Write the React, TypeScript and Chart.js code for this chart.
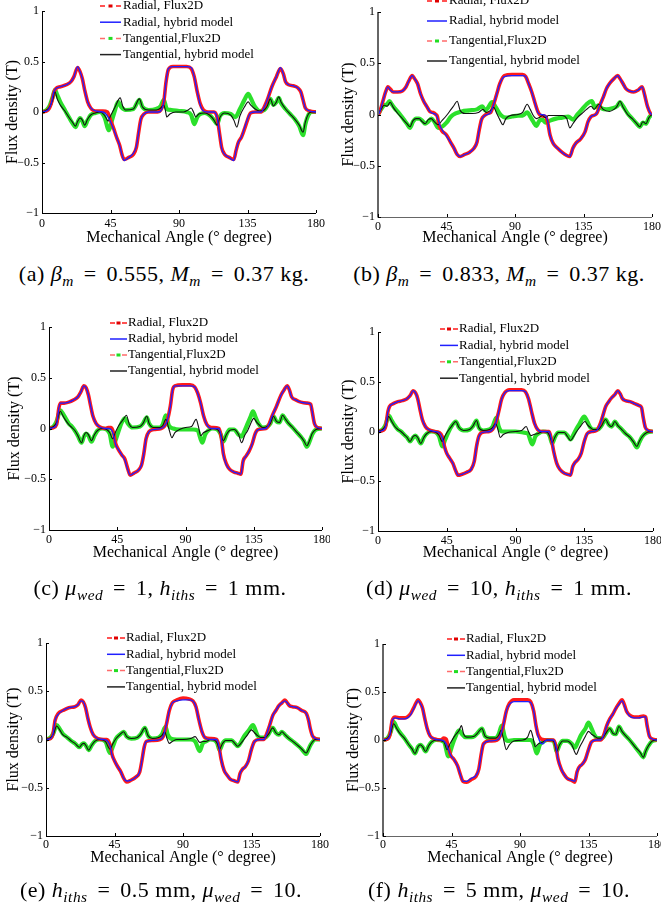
import React, { useEffect, useRef } from 'react';
import { Chart, registerables } from 'chart.js';
Chart.register(...registerables);

type Pt = [number, number];

const xTicks = [0, 45, 90, 135, 180];
const xTickLabels = ['0', '45', '90', '135', '180'];
const yTicks = [-1, -0.5, 0, 0.5, 1];
const yTickLabels = ['\u22121', '\u22120.5', '0', '0.5', '1'];
const seriesNames = ['Radial, Flux2D', 'Radial, hybrid model', 'Tangential,Flux2D', 'Tangential, hybrid model'];
const xTitle = 'Mechanical Angle (\u00b0 degree)';
const yTitle = 'Flux density (T)';

// ---------- (a) ----------
const radialFluxA: Pt[] = [[0,0],[4,0.02],[6,0.08],[8,0.2],[9,0.23],[12,0.25],[16,0.27],[19,0.3],[21,0.35],[23.4,0.44],[25,0.4],[26.5,0.33],[28,0.22],[30,0.1],[32,0.04],[35,0.01],[40,0.01],[43,0.0],[45,-0.08],[47,-0.16],[49,-0.25],[51,-0.33],[52.5,-0.42],[54,-0.47],[57,-0.45],[60,-0.42],[62,-0.35],[63.5,-0.2],[65,-0.07],[67,-0.02],[70,0],[76,0],[78,0.02],[80,0.1],[81.5,0.3],[83,0.42],[86,0.45],[95,0.45],[98,0.43],[100,0.35],[102,0.2],[104,0.08],[106,0.02],[109,0],[113,0],[115,-0.05],[116.5,-0.2],[118,-0.35],[120,-0.42],[123,-0.45],[126,-0.47],[127.5,-0.38],[129,-0.3],[131,-0.25],[133,-0.17],[135,-0.08],[137,-0.01],[140,0],[144,0],[146,0.05],[148,0.12],[151,0.25],[154,0.35],[156.6,0.43],[158.5,0.38],[160,0.3],[162,0.27],[165,0.26],[168,0.24],[170,0.2],[171.5,0.12],[173,0.04],[176,0.01],[180,0]];
const radialHybridA: Pt[] = [[0,0],[4,0.02],[6,0.08],[7.8,0.2],[9,0.23],[12,0.25],[16,0.27],[19,0.3],[21,0.35],[23.4,0.45],[25,0.4],[26.5,0.33],[28,0.22],[30,0.1],[32,0.04],[35,0.01],[40,0],[42,-0.02],[44.5,-0.08],[47,-0.17],[49,-0.25],[51,-0.33],[52.5,-0.42],[54,-0.48],[57,-0.45],[60,-0.41],[62,-0.34],[63.5,-0.2],[65,-0.07],[67,-0.02],[70,0],[76,0],[78,0.01],[80,0.1],[81.5,0.3],[83,0.43],[86,0.45],[95,0.45],[98,0.44],[100,0.35],[102,0.2],[104,0.07],[106,0.01],[109,0],[113,0],[115,-0.05],[116.5,-0.2],[118,-0.36],[120,-0.42],[123,-0.45],[126,-0.48],[127.5,-0.38],[129,-0.3],[131,-0.25],[133,-0.16],[135,-0.07],[137,-0.01],[140,0],[144,0],[146,0.05],[148,0.12],[151,0.25],[154,0.35],[156.6,0.44],[158.5,0.38],[160,0.3],[162,0.27],[165,0.26],[168,0.24],[170,0.2],[171.5,0.12],[173,0.04],[176,0.01],[180,0]];
const tangFluxA: Pt[] = [[0,0],[3,0.02],[5,0.06],[7,0.15],[8.5,0.22],[10,0.17],[12,0.1],[15,0.02],[18,-0.06],[20,-0.11],[22,-0.15],[23.5,-0.1],[25,-0.06],[26.5,-0.09],[28,-0.14],[30,-0.08],[32,-0.03],[35,-0.01],[38,0],[41,-0.05],[44,-0.18],[46,-0.08],[48,0.02],[50,0.1],[52,0.05],[55,0.02],[60,0.03],[64,0.12],[66,0.05],[70,0.02],[75,0.03],[78,0.06],[80,0.12],[82,0.03],[85,0.02],[90,0.01],[95,0],[98,-0.03],[100,-0.12],[102,-0.05],[104,-0.02],[107,-0.01],[110,-0.03],[113,-0.08],[115,-0.12],[117,-0.04],[120,-0.01],[124,-0.02],[127,-0.05],[130,0.03],[133,0.12],[135.5,0.18],[137,0.14],[140,0.05],[143,0.01],[146,0.02],[148,0.06],[150,0.13],[152,0.07],[154,0.1],[155.5,0.14],[157,0.09],[160,0.03],[163,-0.02],[166,-0.07],[169,-0.14],[171.5,-0.23],[173,-0.12],[175,-0.03],[177,0],[180,0]];
const tangHybridA: Pt[] = [[0,0],[3,0.02],[5,0.05],[7,0.12],[8.5,0.2],[10,0.13],[12,0.07],[15,0.01],[18,-0.06],[20,-0.1],[22,-0.14],[23.5,-0.09],[25,-0.06],[26.5,-0.08],[28,-0.13],[30,-0.07],[32,-0.03],[35,-0.01],[38,0],[41,-0.03],[43.5,-0.09],[45,-0.04],[48,0.05],[51.4,0.14],[53,0.06],[55,0.02],[60,0.03],[64,0.13],[66,0.05],[70,0.02],[75,0.02],[78,0.04],[80,0.07],[81,0.02],[82,-0.05],[84,-0.02],[88,0],[93,0],[96,0.02],[98,0.04],[99.5,0.0],[101,-0.05],[103,-0.02],[107,-0.01],[110,-0.03],[113,-0.08],[115,-0.13],[117,-0.05],[120,-0.01],[124,-0.03],[126,-0.08],[128,-0.15],[130,-0.04],[133,0.05],[135.5,0.1],[137,0.07],[140,0.03],[143,0.01],[146,0.02],[148,0.06],[150,0.13],[152,0.06],[154,0.1],[155.5,0.15],[157,0.1],[160,0.03],[163,-0.02],[166,-0.07],[169,-0.13],[171.5,-0.2],[173,-0.1],[175,-0.02],[177,0],[180,0]];

// ---------- (b) ----------
const radialFluxB: Pt[] = [[0,0],[1,0.02],[3,0.12],[5,0.22],[6.5,0.27],[8,0.25],[10,0.22],[13,0.22],[16,0.23],[18,0.26],[20,0.32],[22.5,0.38],[24,0.35],[26,0.3],[28,0.2],[30,0.13],[32,0.08],[34,0.03],[36,0.02],[38,0],[39,-0.02],[40,-0.1],[42,-0.16],[45,-0.2],[48,-0.28],[50,-0.33],[52,-0.39],[54,-0.41],[57,-0.39],[60,-0.37],[63,-0.33],[65,-0.27],[66.5,-0.15],[68,-0.05],[70,-0.01],[72,0.01],[74,0.02],[76,0.1],[78,0.2],[80,0.3],[83,0.38],[88,0.39],[95,0.39],[97,0.37],[99,0.3],[101,0.22],[103,0.12],[105,0.03],[107,-0.01],[110,-0.02],[111.5,-0.08],[113,-0.2],[115,-0.28],[118,-0.33],[121,-0.37],[124,-0.4],[126,-0.41],[128,-0.33],[130,-0.28],[133,-0.24],[136,-0.17],[138,-0.07],[140,-0.02],[143,0],[144,0.02],[146,0.1],[148,0.17],[150,0.25],[152,0.3],[155,0.35],[157.5,0.38],[159,0.35],[161,0.3],[163,0.25],[165,0.23],[168,0.22],[171,0.24],[173.5,0.27],[175,0.2],[177,0.08],[179,0.01],[180,0]];
const radialHybridB: Pt[] = [[0,0],[1,0.02],[3,0.12],[5,0.22],[6.5,0.27],[8,0.24],[10,0.22],[13,0.22],[16,0.23],[18,0.26],[20,0.32],[22.5,0.38],[24,0.35],[26,0.3],[28,0.2],[30,0.13],[32,0.08],[34,0.03],[36,0.01],[38,0],[39.5,-0.05],[41,-0.12],[43,-0.17],[45,-0.21],[48,-0.28],[50,-0.33],[52,-0.39],[54,-0.41],[57,-0.39],[60,-0.37],[63,-0.33],[65,-0.27],[66.5,-0.15],[68,-0.05],[70,-0.01],[72,0],[74,0.02],[76,0.1],[78,0.2],[80,0.3],[83,0.37],[88,0.38],[95,0.38],[97,0.37],[99,0.3],[101,0.22],[103,0.12],[105,0.02],[107,0],[110,-0.01],[111.5,-0.07],[113,-0.2],[115,-0.28],[118,-0.33],[121,-0.37],[124,-0.4],[126,-0.41],[128,-0.33],[130,-0.28],[133,-0.24],[136,-0.17],[138,-0.07],[140,-0.02],[143,0],[144,0.02],[146,0.1],[148,0.17],[150,0.25],[152,0.3],[155,0.35],[157.5,0.38],[159,0.35],[161,0.3],[163,0.25],[165,0.23],[168,0.22],[171,0.24],[173.5,0.27],[175,0.2],[177,0.08],[179,0.01],[180,0]];
const tangFluxB: Pt[] = [[0,0],[2,0.05],[4,0.09],[6,0.1],[7.5,0.13],[9,0.1],[11,0.06],[14,0.01],[17,-0.05],[19,-0.09],[21,-0.13],[23,-0.07],[25,-0.04],[27,-0.04],[29,-0.06],[31,-0.09],[33,-0.07],[35,-0.04],[37,-0.07],[39.5,-0.13],[42,-0.12],[45,-0.08],[48,-0.02],[51,0.01],[55,0.03],[60,0.04],[65,0.05],[68.5,0.08],[70.5,0.04],[72,0.06],[75,0.12],[77,0.08],[79,0.03],[81,-0.01],[84,-0.03],[88,-0.02],[92,-0.01],[95,-0.01],[98,0.02],[100,-0.02],[102,-0.07],[104,-0.11],[106,-0.06],[108,-0.05],[110,-0.08],[113,-0.06],[117,-0.04],[121,-0.03],[125,-0.02],[128,-0.05],[131,0.0],[134,0.05],[137,0.1],[140.5,0.13],[142.5,0.07],[145,0.09],[147,0.06],[150,0.05],[154,0.06],[157,0.08],[159,0.12],[161,0.08],[164,0.01],[167,-0.04],[170,-0.09],[172,-0.12],[174,-0.08],[176,-0.09],[178,-0.03],[180,0]];
const tangHybridB: Pt[] = [[0,0],[2,0.05],[4,0.09],[6,0.08],[8,0.12],[10,0.07],[13,0.01],[16,-0.04],[19,-0.09],[21,-0.12],[23,-0.06],[25,-0.04],[27,-0.04],[29,-0.07],[31,-0.09],[33,-0.05],[35,-0.04],[37,-0.07],[39.5,-0.1],[42,-0.06],[45,-0.01],[48,0.05],[50,0.09],[52,0.13],[54,0.04],[57,0.01],[62,0.01],[66,0.02],[69,0.05],[71,0.02],[74,0.04],[76,0.07],[78,0.01],[80,-0.05],[82,-0.1],[84,-0.04],[87,-0.01],[92,0],[95,0.02],[98,0.1],[100,0.05],[102,-0.01],[104,-0.04],[106,-0.03],[108,-0.01],[110,-0.03],[112,-0.01],[116,-0.01],[121,-0.01],[124,-0.04],[126,-0.13],[128,-0.09],[131,-0.03],[134,0.01],[137,0.05],[140,0.08],[142,0.05],[145,0.1],[148,0.05],[152,0.03],[155,0.05],[157,0.08],[159,0.13],[161,0.07],[164,0.0],[167,-0.04],[170,-0.09],[172,-0.12],[174,-0.07],[176,-0.09],[178,-0.03],[180,0]];

// ---------- (c) ----------
const radialFluxC: Pt[] = [[0,0],[3,0.01],[5,0.04],[6.5,0.2],[7.5,0.25],[10,0.25],[13,0.26],[16,0.28],[19,0.31],[21,0.36],[23,0.42],[24.5,0.4],[26,0.33],[27.5,0.22],[29,0.12],[31,0.05],[33,0.02],[37,0.0],[39,0.01],[41,0.01],[42.5,-0.04],[44,-0.15],[45.5,-0.2],[48,-0.26],[50,-0.3],[52,-0.4],[53.5,-0.46],[56,-0.44],[59,-0.41],[61,-0.36],[62.5,-0.25],[64,-0.1],[66,-0.03],[69,-0.01],[74,0],[76,0.02],[78,0.08],[80,0.22],[81.5,0.38],[83,0.42],[88,0.43],[93,0.43],[96,0.41],[98,0.35],[100,0.25],[102,0.12],[104,0.04],[107,0.01],[112,0],[113.5,-0.08],[115,-0.25],[117,-0.35],[119,-0.4],[122,-0.43],[124.5,-0.44],[126.5,-0.45],[128,-0.32],[130,-0.27],[132,-0.22],[134,-0.15],[136,-0.05],[138,-0.01],[143,0],[145,0.04],[147,0.12],[150,0.22],[153,0.33],[155,0.38],[157,0.42],[158.5,0.38],[160,0.31],[163,0.28],[166,0.26],[170,0.25],[172.5,0.24],[173.5,0.17],[175,0.05],[177,0.01],[180,0]];
const radialHybridC: Pt[] = [[0,0],[3,0.01],[5,0.04],[6.5,0.2],[7.5,0.25],[10,0.25],[13,0.26],[16,0.28],[19,0.31],[21,0.36],[23,0.42],[24.5,0.4],[26,0.33],[27.5,0.22],[29,0.12],[31,0.05],[33,0.02],[37,0.0],[39,0],[41,-0.01],[42.5,-0.06],[44,-0.16],[45.5,-0.2],[48,-0.26],[50,-0.31],[52,-0.41],[53.5,-0.46],[56,-0.44],[59,-0.41],[61,-0.36],[62.5,-0.25],[64,-0.1],[66,-0.03],[69,-0.01],[74,0],[76,0.02],[78,0.08],[80,0.22],[81.5,0.38],[83,0.42],[88,0.42],[93,0.42],[96,0.41],[98,0.35],[100,0.25],[102,0.12],[104,0.04],[107,0.0],[112,0],[113.5,-0.08],[115,-0.26],[117,-0.36],[119,-0.4],[122,-0.43],[124.5,-0.44],[126.5,-0.45],[128,-0.32],[130,-0.27],[132,-0.22],[134,-0.15],[136,-0.05],[138,-0.01],[143,0],[145,0.04],[147,0.12],[150,0.22],[153,0.33],[155,0.38],[157,0.42],[158.5,0.38],[160,0.31],[163,0.28],[166,0.26],[170,0.25],[172.5,0.24],[173.5,0.17],[175,0.05],[177,0.01],[180,0]];
const tangFluxC: Pt[] = [[0,0],[3,0.02],[5,0.07],[7.5,0.18],[9,0.15],[11,0.1],[13,0.05],[15,0.02],[17,-0.02],[19,-0.07],[21.5,-0.14],[23,-0.08],[24.5,-0.05],[26,-0.07],[28,-0.13],[30,-0.07],[32,-0.02],[35,0],[38,-0.01],[40,-0.05],[42,-0.18],[44,-0.11],[46,-0.02],[48,0.06],[50,0.1],[52,0.05],[55,0.01],[60,0.02],[62,0.05],[64.5,0.11],[66,0.05],[69,0.01],[73,0.01],[75,0.04],[77,0.13],[79,0.03],[82,0.0],[86,-0.01],[90,-0.01],[95,-0.01],[98,-0.02],[101,-0.14],[103,-0.06],[105,-0.02],[108,0],[111,-0.01],[113,-0.05],[115,-0.13],[117,-0.06],[119,-0.01],[122,-0.01],[125,-0.06],[127,-0.08],[129,-0.02],[131,0.05],[133,0.12],[134.5,0.17],[136,0.12],[138,0.05],[141,0.01],[144,0.02],[146,0.05],[148,0.12],[150,0.07],[152,0.06],[154,0.13],[156,0.09],[158,0.05],[160,0.02],[163,-0.03],[166,-0.08],[168,-0.12],[170,-0.18],[172,-0.12],[173.5,-0.06],[176,-0.01],[180,0]];
const tangHybridC: Pt[] = [[0,0],[3,0.02],[5,0.06],[7.5,0.17],[9,0.13],[11,0.08],[13,0.04],[15,0.01],[17,-0.02],[19,-0.07],[21.5,-0.14],[23,-0.07],[24.5,-0.04],[26,-0.06],[28,-0.12],[30,-0.06],[32,-0.02],[35,0],[38,-0.01],[40,-0.04],[42,-0.1],[44,-0.03],[46,0.03],[49,0.09],[51,0.13],[53,0.04],[55,0.01],[60,0.02],[62,0.05],[64.5,0.12],[66,0.05],[69,0.01],[73,0.01],[75,0.03],[77,0.09],[79,0.0],[81,-0.09],[83,-0.04],[86,-0.01],[90,0.01],[94,0.02],[97,0.09],[98.5,0.02],[100,-0.07],[102,-0.04],[105,-0.02],[108,0],[111,-0.01],[113,-0.05],[115,-0.12],[117,-0.06],[119,-0.02],[122,-0.01],[125,-0.06],[127,-0.14],[129,-0.07],[131,-0.02],[133,0.05],[135,0.1],[137,0.06],[139,0.03],[141,0.01],[144,0.02],[146,0.05],[148,0.12],[150,0.07],[152,0.06],[154,0.13],[156,0.09],[158,0.05],[160,0.02],[163,-0.03],[166,-0.08],[168,-0.12],[170,-0.17],[172,-0.11],[173.5,-0.05],[176,-0.01],[180,0]];

// ---------- (d) ----------
const radialFluxD: Pt[] = [[0,0],[3,0.01],[5,0.05],[6.5,0.2],[7.5,0.25],[10,0.28],[13,0.3],[16,0.31],[19,0.33],[21,0.36],[23,0.41],[24.5,0.39],[26,0.33],[27.5,0.22],[29,0.12],[31,0.05],[33,0.02],[37,0.0],[40,-0.01],[42,-0.05],[43.5,-0.15],[45,-0.22],[47,-0.27],[49,-0.32],[51,-0.4],[52.5,-0.44],[55,-0.43],[58,-0.41],[61,-0.38],[63,-0.3],[64.5,-0.15],[66,-0.05],[68,-0.01],[73,0],[75,0.02],[77,0.08],[79,0.2],[81,0.33],[83,0.39],[86,0.42],[90,0.42],[94,0.42],[96.5,0.4],[98.5,0.33],[100.5,0.2],[102.5,0.08],[104.5,0.02],[107,0],[112,0],[113.5,-0.08],[115,-0.2],[117,-0.32],[119,-0.38],[122,-0.42],[124,-0.43],[126,-0.44],[127.5,-0.35],[129,-0.31],[131,-0.28],[133,-0.22],[135,-0.1],[137,-0.02],[140,0],[143,0.01],[145,0.06],[147,0.15],[149,0.25],[151,0.3],[153,0.34],[155,0.37],[157,0.41],[158.5,0.38],[160,0.33],[162,0.31],[165,0.3],[168,0.28],[171,0.26],[172.5,0.24],[173.5,0.15],[175,0.04],[177,0.01],[180,0]];
const radialHybridD: Pt[] = [[0,0],[3,0.01],[5,0.05],[6.5,0.2],[7.5,0.25],[10,0.28],[13,0.3],[16,0.31],[19,0.33],[21,0.36],[23,0.41],[24.5,0.39],[26,0.33],[27.5,0.22],[29,0.12],[31,0.05],[33,0.02],[37,0.0],[40,-0.01],[42,-0.06],[43.5,-0.16],[45,-0.22],[47,-0.27],[49,-0.32],[51,-0.4],[52.5,-0.44],[55,-0.43],[58,-0.41],[61,-0.38],[63,-0.3],[64.5,-0.15],[66,-0.05],[68,-0.01],[73,0],[75,0.02],[77,0.08],[79,0.2],[81,0.33],[83,0.39],[86,0.41],[90,0.41],[94,0.41],[96.5,0.4],[98.5,0.33],[100.5,0.2],[102.5,0.08],[104.5,0.02],[107,0],[112,0],[113.5,-0.08],[115,-0.2],[117,-0.32],[119,-0.38],[122,-0.42],[124,-0.43],[126,-0.44],[127.5,-0.35],[129,-0.31],[131,-0.28],[133,-0.22],[135,-0.1],[137,-0.02],[140,0],[143,0.01],[145,0.06],[147,0.15],[149,0.25],[151,0.3],[153,0.34],[155,0.37],[157,0.41],[158.5,0.38],[160,0.33],[162,0.31],[165,0.3],[168,0.28],[171,0.26],[172.5,0.24],[173.5,0.15],[175,0.04],[177,0.01],[180,0]];
const tangFluxD: Pt[] = [[0,0],[3,0.02],[5,0.07],[7,0.16],[9,0.11],[11,0.06],[13,0.02],[15,0.0],[17,-0.03],[19,-0.06],[21,-0.1],[23,-0.06],[24.5,-0.04],[26,-0.07],[28,-0.12],[30,-0.06],[32,-0.02],[35,0],[38,-0.01],[40,-0.05],[42,-0.15],[44,-0.08],[46,-0.01],[48,0.05],[51,0.1],[53,0.04],[56,0.01],[60,0.02],[62,0.05],[64.5,0.11],[66,0.04],[69,0.01],[73,0.02],[75,0.05],[77.5,0.14],[79,0.05],[81,0.0],[85,0.0],[90,0.0],[95,-0.01],[98,-0.02],[101,-0.13],[103,-0.05],[105,-0.02],[108,0],[111,-0.01],[112.5,-0.05],[114,-0.12],[116,-0.05],[118,-0.01],[122,-0.01],[124,-0.04],[126,-0.08],[128,-0.03],[130,0.03],[132,0.08],[135,0.15],[137,0.1],[139,0.04],[141,0.02],[144,0.02],[146,0.05],[149,0.12],[151,0.07],[153,0.05],[155,0.1],[157,0.06],[159,0.03],[162,-0.02],[165,-0.06],[167,-0.1],[169.5,-0.16],[171,-0.11],[173,-0.05],[176,-0.01],[180,0]];
const tangHybridD: Pt[] = [[0,0],[3,0.02],[5,0.06],[7,0.15],[9,0.1],[11,0.05],[13,0.02],[15,0.0],[17,-0.03],[19,-0.06],[21,-0.1],[23,-0.05],[24.5,-0.04],[26,-0.06],[28,-0.12],[30,-0.06],[32,-0.02],[35,0],[38,-0.01],[40,-0.04],[42,-0.1],[44,-0.04],[46,0.01],[48,0.05],[51,0.1],[53,0.04],[56,0.01],[60,0.02],[62,0.05],[64.5,0.11],[66,0.04],[69,0.01],[73,0.02],[75,0.04],[77,0.08],[78.5,0.02],[80,-0.06],[82,-0.03],[85,-0.01],[90,0.0],[94,0.01],[97,0.05],[98.5,0.0],[100,-0.04],[102,-0.03],[105,-0.02],[108,0],[111,-0.01],[112.5,-0.05],[114,-0.11],[116,-0.05],[118,-0.01],[122,-0.01],[124,-0.05],[126,-0.09],[128,-0.05],[130,0.0],[132,0.04],[135.5,0.1],[137,0.07],[139,0.04],[141,0.02],[144,0.02],[146,0.05],[149,0.12],[151,0.07],[153,0.05],[155,0.1],[157,0.06],[159,0.03],[162,-0.02],[165,-0.06],[167,-0.1],[169.5,-0.15],[171,-0.1],[173,-0.05],[176,-0.01],[180,0]];

// ---------- (e) ----------
const radialFluxE: Pt[] = [[0,0],[3,0.01],[4.5,0.05],[6,0.2],[8,0.27],[11,0.3],[15,0.33],[19,0.34],[21,0.36],[23,0.41],[24.5,0.39],[26,0.33],[27.5,0.22],[29,0.13],[31,0.05],[34,0.01],[38,0.0],[40,0.0],[42,-0.05],[43.5,-0.16],[45,-0.22],[47,-0.28],[49,-0.33],[51,-0.4],[53,-0.44],[56,-0.42],[59,-0.39],[61.5,-0.34],[63,-0.22],[64.5,-0.08],[66,-0.02],[70,-0.01],[75,0],[77,0.03],[79,0.15],[81,0.3],[83,0.38],[86,0.41],[90,0.43],[94,0.42],[96.5,0.4],[98.5,0.34],[100.5,0.2],[102.5,0.08],[104.5,0.02],[108,0.01],[112,0],[113.5,-0.06],[115,-0.2],[117,-0.32],[119,-0.37],[121,-0.41],[124,-0.43],[126,-0.44],[127.5,-0.35],[129,-0.31],[131,-0.28],[133,-0.22],[135,-0.1],[137,-0.02],[140,0],[143,0.0],[145,0.06],[147,0.15],[149,0.25],[151,0.3],[153,0.35],[155,0.38],[157,0.41],[158.5,0.38],[160,0.35],[162,0.34],[165,0.33],[168,0.3],[171,0.27],[172.5,0.2],[173.5,0.12],[175,0.04],[177,0.01],[180,0]];
const radialHybridE: Pt[] = [[0,0],[3,0.01],[4.5,0.05],[6,0.2],[8,0.26],[11,0.3],[15,0.33],[19,0.34],[21,0.36],[23,0.4],[24.5,0.39],[26,0.33],[27.5,0.22],[29,0.13],[31,0.05],[34,0.01],[38,0.0],[40,-0.01],[42,-0.06],[43.5,-0.17],[45,-0.22],[47,-0.28],[49,-0.33],[51,-0.4],[53,-0.43],[56,-0.42],[59,-0.39],[61.5,-0.34],[63,-0.22],[64.5,-0.08],[66,-0.02],[70,-0.01],[75,0],[77,0.03],[79,0.15],[81,0.3],[83,0.38],[86,0.4],[90,0.41],[94,0.41],[96.5,0.4],[98.5,0.34],[100.5,0.2],[102.5,0.08],[104.5,0.02],[108,0.0],[112,0],[113.5,-0.06],[115,-0.2],[117,-0.32],[119,-0.37],[121,-0.41],[124,-0.43],[126,-0.44],[127.5,-0.35],[129,-0.31],[131,-0.28],[133,-0.22],[135,-0.1],[137,-0.02],[140,0],[143,0.0],[145,0.06],[147,0.15],[149,0.25],[151,0.3],[153,0.35],[155,0.38],[157,0.4],[158.5,0.38],[160,0.35],[162,0.34],[165,0.33],[168,0.3],[171,0.27],[172.5,0.2],[173.5,0.12],[175,0.04],[177,0.01],[180,0]];
const tangFluxE: Pt[] = [[0,0],[3,0.02],[5,0.07],[7,0.15],[9,0.11],[11,0.06],[14,0.02],[17,-0.02],[19,-0.04],[22,-0.08],[23.5,-0.05],[25,-0.04],[26.5,-0.07],[28,-0.11],[30,-0.06],[32,-0.02],[35,0],[39,-0.02],[42,-0.14],[44,-0.07],[46,0.01],[48.5,0.05],[51,0.08],[53,0.03],[56,0.01],[60,0.02],[62,0.05],[65,0.12],[67,0.04],[70,0.01],[74,0.02],[76,0.05],[78.5,0.13],[80,0.05],[82,0.01],[86,0],[90,0],[95,0],[98,-0.02],[101,-0.12],[103,-0.04],[105,-0.02],[108,0],[111,-0.01],[112.5,-0.04],[114,-0.11],[116,-0.04],[118,-0.01],[122,-0.01],[124,-0.04],[126,-0.07],[128,-0.03],[130,0.03],[133,0.09],[136,0.15],[137.5,0.1],[139,0.04],[141,0.02],[144,0.02],[146,0.05],[149,0.12],[151,0.07],[153,0.05],[155,0.08],[157,0.05],[159,0.02],[163,-0.03],[166,-0.07],[168,-0.1],[171,-0.15],[172.5,-0.1],[174,-0.05],[177,0],[180,0]];
const tangHybridE: Pt[] = [[0,0],[3,0.02],[5,0.06],[7,0.14],[9,0.1],[11,0.05],[14,0.02],[17,-0.02],[19,-0.04],[22,-0.08],[23.5,-0.05],[25,-0.04],[26.5,-0.07],[28,-0.11],[30,-0.06],[32,-0.02],[35,0],[39,-0.02],[42,-0.1],[44,-0.04],[46,0.01],[48.5,0.05],[51,0.08],[53,0.03],[56,0.01],[60,0.02],[62,0.05],[65,0.12],[67,0.04],[70,0.01],[74,0.02],[76,0.04],[78,0.08],[79.5,0.01],[81,-0.04],[83,-0.02],[86,0],[90,0],[95,0.01],[98,0.03],[99.5,0.0],[101,-0.03],[103,-0.02],[105,-0.02],[108,0],[111,-0.01],[112.5,-0.04],[114,-0.1],[116,-0.04],[118,-0.01],[122,-0.01],[124,-0.04],[126,-0.07],[128,-0.04],[130,0.0],[132,0.04],[135,0.1],[137,0.07],[139,0.04],[141,0.02],[144,0.02],[146,0.05],[149,0.12],[151,0.07],[153,0.05],[155,0.08],[157,0.05],[159,0.02],[163,-0.03],[166,-0.07],[168,-0.1],[171,-0.14],[172.5,-0.1],[174,-0.05],[177,0],[180,0]];

// ---------- (f) ----------
const radialFluxF: Pt[] = [[0,0],[3,0.01],[4.5,0.05],[6,0.2],[8,0.24],[11,0.23],[14,0.23],[16,0.24],[18,0.27],[20,0.33],[21.5,0.38],[23,0.42],[24.5,0.39],[26,0.33],[27.5,0.22],[29,0.12],[31,0.04],[34,0.01],[38,0.0],[40,0.02],[41.5,0.01],[43,-0.08],[44.5,-0.16],[46.5,-0.2],[49,-0.27],[51,-0.37],[52.5,-0.43],[55,-0.44],[58,-0.41],[61,-0.38],[63,-0.3],[64.5,-0.15],[66,-0.04],[70,-0.01],[75,0],[77,0.04],[79,0.15],[81,0.3],[83,0.38],[86,0.42],[90,0.42],[95,0.42],[97,0.4],[99,0.3],[100.5,0.15],[102,0.05],[104,0.01],[108,0],[112,0],[113.5,-0.06],[115,-0.2],[117,-0.3],[119,-0.36],[121,-0.4],[124,-0.42],[126,-0.44],[127.5,-0.33],[129,-0.28],[131,-0.25],[133,-0.2],[135,-0.1],[137,-0.02],[140,0],[143,0.0],[145,0.05],[147,0.15],[149,0.22],[151,0.27],[153,0.33],[155,0.38],[157,0.42],[158.5,0.37],[160,0.3],[162,0.26],[165,0.24],[168,0.24],[171,0.25],[172.5,0.24],[173.5,0.15],[175,0.04],[177,0.01],[180,0]];
const radialHybridF: Pt[] = [[0,0],[3,0.01],[4.5,0.05],[6,0.2],[8,0.23],[11,0.22],[14,0.22],[16,0.23],[18,0.26],[20,0.32],[21.5,0.37],[23,0.41],[24.5,0.38],[26,0.33],[27.5,0.22],[29,0.12],[31,0.04],[34,0.01],[38,0.0],[40,-0.01],[41.5,-0.04],[43,-0.1],[44.5,-0.16],[46.5,-0.2],[49,-0.27],[51,-0.37],[52.5,-0.43],[55,-0.43],[58,-0.4],[61,-0.37],[63,-0.3],[64.5,-0.15],[66,-0.04],[70,-0.01],[75,0],[77,0.04],[79,0.15],[81,0.3],[83,0.37],[86,0.4],[90,0.4],[95,0.4],[97,0.39],[99,0.3],[100.5,0.15],[102,0.03],[103.5,-0.03],[105,-0.04],[106.5,-0.01],[108,0],[112,0],[113.5,-0.06],[115,-0.2],[117,-0.3],[119,-0.36],[121,-0.4],[124,-0.42],[126,-0.43],[127.5,-0.33],[129,-0.28],[131,-0.25],[133,-0.2],[135,-0.1],[137,-0.02],[140,0],[143,0.0],[145,0.05],[147,0.15],[149,0.22],[151,0.27],[153,0.33],[155,0.37],[157,0.41],[158.5,0.36],[160,0.3],[162,0.25],[165,0.23],[168,0.23],[171,0.24],[172.5,0.24],[173.5,0.15],[175,0.04],[177,0.01],[180,0]];
const tangFluxF: Pt[] = [[0,0],[3,0.02],[5,0.08],[7,0.19],[9,0.13],[11,0.08],[14,0.02],[17,-0.05],[19,-0.09],[21,-0.14],[23,-0.07],[24.5,-0.05],[26,-0.07],[28,-0.12],[30,-0.06],[32,-0.02],[35,0],[40,-0.02],[43,-0.17],[45,-0.08],[47,0.01],[50,0.1],[52,0.06],[54,0.03],[58,0.03],[60,0.04],[62,0.07],[65,0.12],[67,0.04],[70,0.02],[74,0.02],[76,0.06],[78,0.15],[80,0.03],[82,-0.01],[86,0],[92,0],[97,0],[99,-0.04],[101,-0.14],[103,-0.05],[105,-0.02],[108,0],[112,-0.01],[113,-0.05],[114,-0.12],[116,-0.05],[118,-0.01],[121,-0.01],[124,-0.04],[126,-0.08],[128,-0.02],[130,0.05],[133,0.12],[135,0.18],[137,0.12],[139,0.05],[141,0.02],[144,0.02],[146,0.06],[149,0.12],[151,0.07],[153,0.06],[155,0.14],[157,0.09],[159,0.05],[162,0.0],[166,-0.08],[169,-0.14],[171,-0.18],[172.5,-0.12],[174,-0.07],[177,-0.01],[180,0]];
const tangHybridF: Pt[] = [[0,0],[3,0.02],[5,0.07],[7,0.17],[9,0.12],[11,0.07],[14,0.02],[17,-0.05],[19,-0.09],[21,-0.14],[23,-0.07],[24.5,-0.05],[26,-0.07],[28,-0.12],[30,-0.06],[32,-0.02],[35,0],[40,-0.02],[42,-0.1],[44,-0.04],[47,0.04],[50,0.1],[51.5,0.15],[53,0.06],[55,0.03],[60,0.04],[62,0.07],[65,0.12],[67,0.04],[70,0.02],[74,0.02],[76,0.05],[77.5,0.1],[79,0.02],[81,-0.1],[83,-0.05],[86,-0.01],[92,0],[95,0.03],[97,0.1],[98.5,0.03],[100,-0.07],[102,-0.04],[105,-0.02],[108,0],[112,-0.01],[113,-0.05],[114,-0.12],[116,-0.05],[118,-0.01],[121,-0.01],[124,-0.05],[127,-0.15],[129,-0.08],[131,-0.02],[133,0.04],[135,0.09],[137,0.06],[139,0.04],[141,0.02],[144,0.02],[146,0.06],[149,0.12],[151,0.07],[153,0.06],[155,0.14],[157,0.09],[159,0.05],[162,0.0],[166,-0.08],[169,-0.13],[171,-0.18],[172.5,-0.12],[174,-0.07],[177,-0.01],[180,0]];

const SERIF = '"Liberation Serif", "Times New Roman", serif';

interface PanelCfg {
  left: number; top: number; w: number; h: number;
  x0: number; x1: number; y0: number; y1: number;
  yTitleX: number; xTickOff: number; xTitleOff: number;
  legX0: number; legX1: number; legTx: number; legY0: number; legDy: number;
  axisColor: string; axisWidth: number;
  series: Pt[][];
}

const panels: PanelCfg[] = [
  { left: 0, top: 0, w: 330, h: 256, x0: 42, x1: 316, y0: 11, y1: 213, yTitleX: 12.5, xTickOff: 11, xTitleOff: 25,
    legX0: 100, legX1: 121, legTx: 123, legY0: 6, legDy: 16.2, axisColor: '#000', axisWidth: 1,
    series: [radialFluxA, radialHybridA, tangFluxA, tangHybridA] },
  { left: 330, top: 0, w: 331, h: 260, x0: 378, x1: 652, y0: 12, y1: 217, yTitleX: 348.5, xTickOff: 10, xTitleOff: 21,
    legX0: 427, legX1: 447, legTx: 449, legY0: 1, legDy: 20, axisColor: '#666', axisWidth: 2,
    series: [radialFluxB, radialHybridB, tangFluxB, tangHybridB] },
  { left: 0, top: 300, w: 330, h: 275, x0: 49, x1: 322, y0: 327, y1: 530, yTitleX: 15, xTickOff: 10, xTitleOff: 23,
    legX0: 110, legX1: 127, legTx: 128, legY0: 323, legDy: 16, axisColor: '#000', axisWidth: 1,
    series: [radialFluxC, radialHybridC, tangFluxC, tangHybridC] },
  { left: 330, top: 300, w: 331, h: 275, x0: 378, x1: 653, y0: 332, y1: 531, yTitleX: 348.5, xTickOff: 10, xTitleOff: 22,
    legX0: 440, legX1: 458, legTx: 459, legY0: 329, legDy: 16.4, axisColor: '#000', axisWidth: 1,
    series: [radialFluxD, radialHybridD, tangFluxD, tangHybridD] },
  { left: 0, top: 600, w: 330, h: 280, x0: 46, x1: 320, y0: 643, y1: 836, yTitleX: 14, xTickOff: 9, xTitleOff: 22,
    legX0: 107, legX1: 125, legTx: 126, legY0: 638, legDy: 16.3, axisColor: '#000', axisWidth: 1,
    series: [radialFluxE, radialHybridE, tangFluxE, tangHybridE] },
  { left: 330, top: 600, w: 331, h: 280, x0: 383, x1: 657, y0: 644, y1: 836, yTitleX: 353.5, xTickOff: 9, xTitleOff: 22,
    legX0: 447, legX1: 465, legTx: 466, legY0: 639, legDy: 16.3, axisColor: '#666', axisWidth: 2,
    series: [radialFluxF, radialHybridF, tangFluxF, tangHybridF] },
];

const lineColors = ['#ff1a1a', '#1f1fff', '#2be02b', '#111111'];
const lineWidths = [3.6, 1.3, 4.2, 1.1];
const lineOrders = [2, 0, 3, 1];

const X_AXIS_H = 40;

function makeOverlay(cfg: PanelCfg) {
  return {
    id: 'overlay',
    afterDraw(chart: any) {
      const ctx = chart.ctx as CanvasRenderingContext2D;
      const ca = chart.chartArea;
      const xs = chart.scales.x;
      const ys = chart.scales.y;
      ctx.save();
      ctx.strokeStyle = cfg.axisColor;
      ctx.lineWidth = 1;
      ctx.beginPath();
      ctx.moveTo(ca.left + 0.5, ca.top);
      ctx.lineTo(ca.left + 0.5, ca.bottom + 0.5);
      ctx.lineTo(ca.right, ca.bottom + 0.5);
      ctx.stroke();
      if (cfg.axisWidth > 1) {
        ctx.lineWidth = cfg.axisWidth;
        ctx.beginPath();
        ctx.moveTo(ca.left, ca.top);
        ctx.lineTo(ca.left, ca.bottom + 0.5);
        ctx.stroke();
      }
      ctx.strokeStyle = '#000';
      ctx.lineWidth = 1;
      ctx.beginPath();
      xTicks.forEach((v) => {
        const px = Math.round(xs.getPixelForValue(v)) + 0.5;
        ctx.moveTo(px, ca.bottom);
        ctx.lineTo(px, ca.bottom - 3);
      });
      yTicks.forEach((v) => {
        const py = Math.round(ys.getPixelForValue(v)) + 0.5;
        ctx.moveTo(ca.left, py);
        ctx.lineTo(ca.left + 3, py);
      });
      ctx.stroke();
      const ox = cfg.left, oy = cfg.top;
      ctx.font = '13px ' + SERIF;
      ctx.textBaseline = 'middle';
      ctx.textAlign = 'left';
      seriesNames.forEach((name, i) => {
        const y = cfg.legY0 + i * cfg.legDy - oy;
        const a = cfg.legX0 - ox, b = cfg.legX1 - ox;
        const mid = (a + b) / 2;
        ctx.lineWidth = 1.5;
        if (i === 0 || i === 2) {
          ctx.strokeStyle = i === 0 ? '#ff1a1a' : '#ff6b6b';
          ctx.beginPath();
          ctx.moveTo(a, y); ctx.lineTo(a + 5, y);
          ctx.moveTo(b - 5, y); ctx.lineTo(b, y);
          ctx.stroke();
          ctx.fillStyle = i === 0 ? '#e00000' : '#22dd22';
          ctx.fillRect(mid - 2, y - 1.5, 4, 3);
        } else {
          ctx.strokeStyle = i === 1 ? '#1f1fff' : '#222';
          ctx.beginPath();
          ctx.moveTo(a, y); ctx.lineTo(b, y);
          ctx.stroke();
        }
        ctx.fillStyle = '#000';
        ctx.fillText(name, cfg.legTx - ox, y);
      });
      ctx.restore();
    },
  };
}

function Panel({ cfg }: { cfg: PanelCfg }) {
  const ref = useRef<HTMLCanvasElement>(null);
  useEffect(() => {
    const canvas = ref.current;
    if (!canvas) return;
    const yW = cfg.x0 - cfg.left;
    const padTop = cfg.y0 - cfg.top;
    const padRight = cfg.left + cfg.w - cfg.x1;
    const padBottom = cfg.top + cfg.h - cfg.y1 - X_AXIS_H;
    const chart = new Chart(canvas, {
      type: 'line',
      data: {
        datasets: cfg.series.map((pts, i) => ({
          label: seriesNames[i],
          data: pts.map(([x, y]) => ({ x, y })),
          borderColor: lineColors[i],
          backgroundColor: lineColors[i],
          borderWidth: lineWidths[i],
          pointRadius: 0,
          fill: false,
          cubicInterpolationMode: 'monotone' as const,
          order: lineOrders[i],
        })),
      },
      options: {
        animation: false,
        responsive: false,
        devicePixelRatio: 1,
        events: [],
        layout: { padding: { left: 0, top: padTop, right: padRight, bottom: padBottom } },
        plugins: { legend: { display: false }, tooltip: { enabled: false } },
        scales: {
          x: {
            type: 'linear',
            min: 0, max: 180,
            grid: { display: false, drawTicks: false },
            border: { display: false },
            afterBuildTicks: (s: any) => { s.ticks = xTicks.map((v) => ({ value: v })); },
            afterFit: (s: any) => { s.height = X_AXIS_H; s.paddingLeft = 0; s.paddingRight = 0; },
            ticks: {
              autoSkip: false, maxRotation: 0, minRotation: 0,
              padding: cfg.xTickOff - 7.2,
              color: '#000',
              font: { family: SERIF, size: 12 },
              callback: (v: any) => { const k = xTicks.indexOf(Number(v)); return k >= 0 ? xTickLabels[k] : ''; },
            },
            title: {
              display: true, text: xTitle, color: '#000',
              font: { family: SERIF, size: 16 },
              padding: { top: 0, bottom: X_AXIS_H - 9.6 - cfg.xTitleOff },
            },
          },
          y: {
            type: 'linear',
            min: -1, max: 1,
            grid: { display: false, drawTicks: false },
            border: { display: false },
            afterBuildTicks: (s: any) => { s.ticks = yTicks.map((v) => ({ value: v })); },
            afterFit: (s: any) => { s.width = yW; s.paddingTop = 0; s.paddingBottom = 0; },
            ticks: {
              autoSkip: false,
              padding: 3,
              color: '#000',
              font: { family: SERIF, size: 12 },
              callback: (v: any) => { const k = yTicks.indexOf(Number(v)); return k >= 0 ? yTickLabels[k] : ''; },
            },
            title: {
              display: true, text: yTitle, color: '#000',
              font: { family: SERIF, size: 16 },
              padding: { top: cfg.yTitleX - cfg.left - 9.6, bottom: 0 },
            },
          },
        },
      },
      plugins: [makeOverlay(cfg)],
    } as any);
    return () => chart.destroy();
  }, [cfg]);
  return (
    <canvas
      ref={ref}
      width={cfg.w}
      height={cfg.h}
      style={{ position: 'absolute', left: cfg.left, top: cfg.top, width: cfg.w, height: cfg.h }}
    />
  );
}

const mathStyle: React.CSSProperties = { fontStyle: 'italic' };
const subStyle: React.CSSProperties = { fontSize: '70%', fontStyle: 'italic', position: 'relative', top: '0.3em', letterSpacing: '0.5px' };
const eqStyle: React.CSSProperties = { margin: '0 0.45em' };

function Sym({ b, s }: { b: string; s: string }) {
  return (<span><span style={mathStyle}>{b}</span><span style={subStyle}>{s}</span></span>);
}
function Eq() { return <span style={eqStyle}>=</span>; }

const captionPos = [
  { x: 164, y: 274 }, { x: 499, y: 274 },
  { x: 160, y: 588 }, { x: 499, y: 588 },
  { x: 161, y: 890 }, { x: 499, y: 890 },
];

const captions = [
  <>(a) <Sym b={'\u03b2'} s="m" /><Eq />0.555, <Sym b="M" s="m" /><Eq />0.37 kg.</>,
  <>(b) <Sym b={'\u03b2'} s="m" /><Eq />0.833, <Sym b="M" s="m" /><Eq />0.37 kg.</>,
  <>(c) <Sym b={'\u03bc'} s="wed" /><Eq />1, <Sym b="h" s="iths" /><Eq />1 mm.</>,
  <>(d) <Sym b={'\u03bc'} s="wed" /><Eq />10, <Sym b="h" s="iths" /><Eq />1 mm.</>,
  <>(e) <Sym b="h" s="iths" /><Eq />0.5 mm, <Sym b={'\u03bc'} s="wed" /><Eq />10.</>,
  <>(f) <Sym b="h" s="iths" /><Eq />5 mm, <Sym b={'\u03bc'} s="wed" /><Eq />10.</>,
];

export default function App() {
  return (
    <div style={{ position: 'absolute', left: 0, top: 0, width: 661, height: 907, background: '#fff', overflow: 'hidden' }}>
      {panels.map((p, i) => <Panel key={i} cfg={p} />)}
      {captions.map((c, i) => (
        <div key={'c' + i} style={{
          position: 'absolute', left: captionPos[i].x, top: captionPos[i].y,
          transform: 'translate(-50%, -50%)', whiteSpace: 'nowrap',
          fontFamily: SERIF, fontSize: 22, lineHeight: 1, color: '#000', letterSpacing: '0.5px',
        }}>{c}</div>
      ))}
    </div>
  );
}
